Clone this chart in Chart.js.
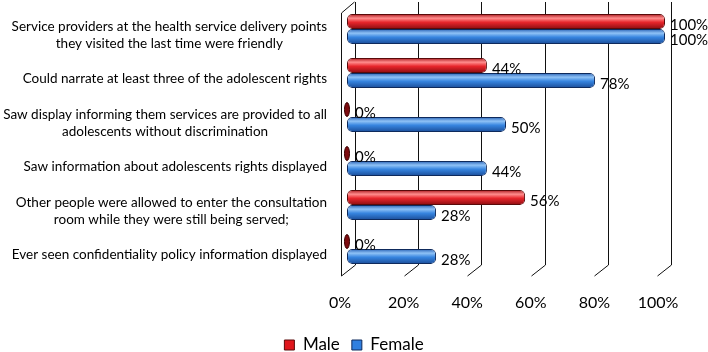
<!DOCTYPE html>
<html>
<head>
<meta charset="utf-8">
<script src="https://cdn.jsdelivr.net/npm/chart.js@4/dist/chart.umd.min.js"></script>
<style>
  html, body { margin: 0; padding: 0; background: #fff; }
  #wrap { width: 708px; height: 352px; }
</style>
</head>
<body>
<div id="wrap"><canvas id="c"></canvas></div>
<script>
// Adolescent-friendly services, by sex (%)
const cats = [
  ['Service providers at the health service delivery points', 'they visited the last time were friendly'],
  ['Could narrate at least three of the adolescent rights'],
  ['Saw display informing them services are provided to all', 'adolescents without discrimination'],
  ['Saw information about adolescents rights displayed'],
  ['Other people were allowed to enter the consultation', 'room while they were still being served;'],
  ['Ever seen confidentiality policy information displayed']
];
const male = [100, 44, 0, 0, 56, 0];
const female = [100, 78, 50, 44, 28, 28];
const xTicks = [0, 20, 40, 60, 80, 100];
const seriesNames = ['Male', 'Female'];

const FONT = 'Lato, "Open Sans", sans-serif';
const CAT_PCT = 0.68;
const RED = ['#a9161b', '#ff8d8d', '#e8262c', '#8a0c10'];
const BLUE = ['#2660b4', '#8fc2f6', '#3785e0', '#1a4c98'];

// cylinder shading, computed from the category scale
function cyl(ctx, cols) {
  const ch = ctx.chart, ys = ch.scales.y;
  if (!ys || !ch.chartArea) return cols[2];
  const h = ys.height / cats.length * CAT_PCT / 2;
  const cy = ys.getPixelForValue(ctx.dataIndex);
  const top = cy + (ctx.datasetIndex === 0 ? -h : 0);
  const g = ch.ctx.createLinearGradient(0, top, 0, top + h);
  g.addColorStop(0, cols[0]);
  g.addColorStop(0.28, cols[1]);
  g.addColorStop(0.55, cols[2]);
  g.addColorStop(1, cols[3]);
  return g;
}

// back wall, floor and left wall of the 3D frame
const frame = {
  id: 'frame',
  beforeDatasetsDraw(c) {
    const ctx = c.ctx, x = c.scales.x, a = c.chartArea;
    ctx.save();
    ctx.strokeStyle = '#111';
    ctx.lineWidth = 1;
    xTicks.forEach(v => {
      const px = x.getPixelForValue(v);
      const bx = Math.round(px + 8 - v * 0.02) + 0.5;
      const fx = Math.round(px - 6 - v * 0.02) + 0.5;
      ctx.beginPath();
      ctx.moveTo(bx, a.top - 5);
      ctx.lineTo(bx, a.bottom - 6);
      ctx.lineTo(fx, a.bottom + 5);
      ctx.stroke();
    });
    const p0 = Math.round(x.getPixelForValue(0) - 6) + 0.5;
    ctx.beginPath();
    ctx.moveTo(p0, a.bottom + 5);
    ctx.lineTo(p0, a.top + 6);
    ctx.lineTo(p0 + 13, a.top - 5);
    ctx.stroke();
    ctx.restore();
  },
  afterDatasetsDraw(c) {
    const ctx = c.ctx;
    ctx.save();
    ctx.font = '15px ' + FONT;
    ctx.textAlign = 'left';
    ctx.textBaseline = 'middle';
    c.data.datasets.forEach((ds, di) => {
      c.getDatasetMeta(di).data.forEach((el, i) => {
        const v = ds.data[i];
        if (v === 0) {
          ctx.beginPath();
          ctx.ellipse(el.x, el.y, 2.5, el.height / 2 - 0.5, 0, 0, Math.PI * 2);
          ctx.fillStyle = di === 0 ? '#7d0c10' : '#1a4c98';
          ctx.fill();
          ctx.strokeStyle = '#3a0000';
          ctx.stroke();
        }
        ctx.fillStyle = '#000';
        ctx.fillText(v + '%', el.x + (v === 0 ? 8 : 5), el.y + 3.5);
      });
    });
    ctx.restore();
  },
  afterDraw(c) {
    // category labels: block right-aligned, lines centred inside the block
    const ctx = c.ctx, ys = c.scales.y;
    ctx.save();
    ctx.font = '13.5px ' + FONT;
    ctx.fillStyle = '#000';
    ctx.textAlign = 'center';
    ctx.textBaseline = 'middle';
    cats.forEach((lines, i) => {
      const cy = ys.getPixelForValue(i) + 6;
      const bw = Math.max(...lines.map(t => ctx.measureText(t).width));
      const cx = 327 - bw / 2;
      lines.forEach((t, j) => ctx.fillText(t, cx, cy + (j - (lines.length - 1) / 2) * 16.5));
    });
    ctx.restore();
  }
};

new Chart(document.getElementById('c'), {
  type: 'bar',
  data: {
    labels: cats.map(l => l.join(' ')),
    datasets: [
      { label: seriesNames[0], data: male, backgroundColor: ctx => cyl(ctx, RED), borderColor: '#5a0a0a' },
      { label: seriesNames[1], data: female, backgroundColor: ctx => cyl(ctx, BLUE), borderColor: '#0e2a5c' }
    ]
  },
  options: {
    indexAxis: 'y',
    responsive: true,
    maintainAspectRatio: false,
    animation: false,
    layout: { padding: { left: 0, right: 0, top: 7, bottom: -11.5 } },
    datasets: { bar: { categoryPercentage: CAT_PCT, barPercentage: 1, borderWidth: 1, borderRadius: 5, borderSkipped: false } },
    plugins: {
      tooltip: { enabled: false },
      legend: {
        position: 'bottom',
        labels: {
          padding: 12, boxWidth: 10, boxHeight: 10, color: '#000', font: { family: FONT, size: 17 },
          generateLabels: () => [
            { text: seriesNames[0], fillStyle: '#e0161c', strokeStyle: '#5a0a0a', lineWidth: 1, datasetIndex: 0 },
            { text: seriesNames[1], fillStyle: '#2f7fe0', strokeStyle: '#0e2a5c', lineWidth: 1, datasetIndex: 1 }
          ]
        }
      }
    },
    scales: {
      x: {
        min: 0, max: 100,
        grid: { display: false, drawTicks: false },
        border: { display: false },
        afterBuildTicks: s => { s.ticks = xTicks.map(v => ({ value: v })); },
        afterFit: s => { s.height = 53.5; },
        ticks: { padding: 22, labelOffset: -7, color: '#000', font: { family: FONT, size: 16 }, callback: v => v + '%' }
      },
      y: {
        grid: { display: false, drawTicks: false },
        border: { display: false },
        ticks: { display: false },
        afterFit: s => { s.width = 347; }
      },
      yRight: {
        type: 'category',
        position: 'right',
        grid: { display: false, drawTicks: false },
        border: { display: false },
        ticks: { display: false },
        afterFit: s => { s.width = 43; }
      }
    }
  },
  plugins: [frame]
});
</script>
</body>
</html>
